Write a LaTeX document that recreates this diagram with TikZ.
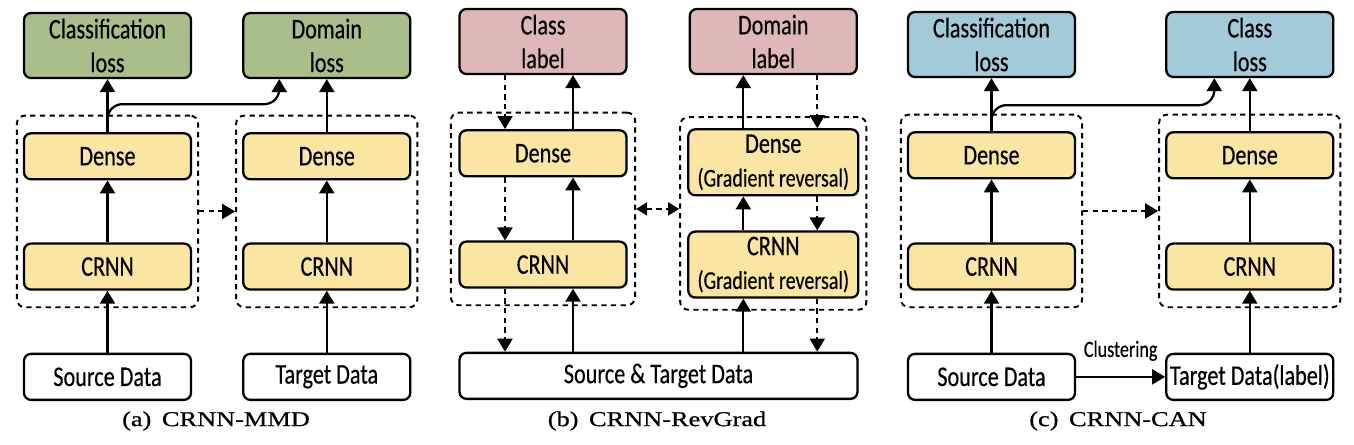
\documentclass[tikz,border=0pt]{standalone}
\usepackage{fontspec}
\usetikzlibrary{arrows.meta,positioning,fit}
\newfontfamily\boxfont{Carlito}[FakeStretch=0.78, FakeBold=0.4]
\newfontfamily\capfont{Liberation Serif}[FakeStretch=1.25, FakeBold=0.8]
\definecolor{lossgreen}{HTML}{A9BF8B}
\definecolor{labelpink}{HTML}{DDB8B6}
\definecolor{lossblue}{HTML}{A3CAD9}
\definecolor{layeryellow}{HTML}{FAE5A3}

\begin{document}
\begin{tikzpicture}[
    node distance=1.24cm,
    box/.style={rectangle, rounded corners=0.14cm, draw=black, line width=1.3pt, minimum width=3.34cm, align=center, inner sep=0pt, font=\boxfont\fontsize{16.2}{19.2}\selectfont},
    loss/.style={box, minimum height=1.3cm},
    layer/.style={box, fill=layeryellow, minimum height=0.92cm},
    revlayer/.style={layer, minimum width=3.4cm, minimum height=1.32cm},
    data/.style={box, fill=white, minimum height=0.92cm},
    group/.style={draw, line width=1.1pt, dash pattern=on 3pt off 2.5pt, rounded corners=0.16cm, inner xsep=0.12cm, inner ysep=0.33cm},
    arrow/.style={-{Triangle[length=0.26cm,width=0.3cm]}, line width=1.3pt},
    back/.style={arrow, line width=1.1pt, dash pattern=on 3pt off 2.5pt},
    caption/.style={font=\capfont\fontsize{12}{14}\selectfont}
]
\useasboundingbox (0,0) rectangle (27.08,-8.88);

% (a) CRNN-MMD
\node[loss, fill=lossgreen] (clsA) at (2.15,-0.91) {Classification\\loss};
\node[loss, fill=lossgreen, right=1.0cm of clsA] (domA) {Domain\\loss};
\node[layer, below=1.06cm of clsA] (denseA1) {Dense};
\node[layer, below=of denseA1] (crnnA1) {CRNN};
\node[data, below=of crnnA1] (srcA) {Source Data};
\node[layer, below=1.06cm of domA] (denseA2) {Dense};
\node[layer, below=of denseA2] (crnnA2) {CRNN};
\node[data, below=of crnnA2] (tgtA) {Target Data};
\node[group, fit=(denseA1)(crnnA1)] (grpA1) {};
\node[group, fit=(denseA2)(crnnA2)] (grpA2) {};

\draw[arrow] (srcA) -- (crnnA1);
\draw[arrow] (crnnA1) -- (denseA1);
\draw[arrow] (denseA1) -- (clsA);
\draw[arrow] (tgtA) -- (crnnA2);
\draw[arrow] (crnnA2) -- (denseA2);
\draw[arrow] (denseA2) -- (domA);
\draw[arrow, rounded corners=0.3cm] (denseA1.north) |- ([xshift=-0.95cm, yshift=-0.5cm]domA.south) -- ([xshift=-0.95cm]domA.south);
\draw[back] (grpA1) -- (grpA2);

% (b) CRNN-RevGrad
\node[loss, fill=labelpink] (clsB) at (10.86,-0.83) {Class\\label};
\node[loss, fill=labelpink, right=1.22cm of clsB] (domB) {Domain\\label};
\node[layer, below=1.08cm of clsB] (denseB1) {Dense};
\node[layer, below=1.26cm of denseB1] (crnnB1) {CRNN};
\node[revlayer, below=1.06cm of domB] (denseB2) {Dense\\{\fontsize{14.6}{17}\selectfont (Gradient reversal)}};
\node[revlayer, below=0.68cm of denseB2] (crnnB2) {CRNN\\{\fontsize{14.6}{17}\selectfont (Gradient reversal)}};
\node[data, minimum width=7.96cm, below=1.26cm of crnnB1.south west, anchor=north west] (dataB) {Source \& Target Data};
\node[group, inner xsep=0.15cm, fit=(denseB1)(crnnB1)] (grpB1) {};
\node[group, inner xsep=0.14cm, inner ysep=0.22cm, fit=(denseB2)(crnnB2)] (grpB2) {};

\coordinate (dnB1) at ([xshift=-0.76cm]clsB.south);
\coordinate (upB1) at ([xshift=0.6cm]clsB.south);
\coordinate (upB2) at ([xshift=-0.6cm]domB.south);
\coordinate (dnB2) at ([xshift=0.88cm]domB.south);

\draw[back] (dnB1) -- (dnB1 |- denseB1.north);
\draw[back] (dnB1 |- denseB1.south) -- (dnB1 |- crnnB1.north);
\draw[back] (dnB1 |- crnnB1.south) -- (dnB1 |- dataB.north);
\draw[arrow] (upB1 |- dataB.north) -- (upB1 |- crnnB1.south);
\draw[arrow] (upB1 |- crnnB1.north) -- (upB1 |- denseB1.south);
\draw[arrow] (upB1 |- denseB1.north) -- (upB1);
\draw[arrow] (upB2 |- dataB.north) -- (upB2 |- crnnB2.south);
\draw[arrow] (upB2 |- crnnB2.north) -- (upB2 |- denseB2.south);
\draw[arrow] (upB2 |- denseB2.north) -- (upB2);
\draw[back] (dnB2) -- (dnB2 |- denseB2.north);
\draw[back] (dnB2 |- denseB2.south) -- (dnB2 |- crnnB2.north);
\draw[back] (dnB2 |- crnnB2.south) -- (dnB2 |- dataB.north);
\draw[back, {Triangle[length=0.22cm,width=0.26cm]}-{Triangle[length=0.22cm,width=0.26cm]}] (grpB1.east) -- (grpB1.east -| grpB2.west);

% (c) CRNN-CAN
\node[loss, fill=lossblue] (clsC) at (19.83,-0.89) {Classification\\loss};
\node[loss, fill=lossblue, right=1.78cm of clsC] (lossC2) {Class\\loss};
\node[layer, below=1.06cm of clsC] (denseC1) {Dense};
\node[layer, below=1.26cm of denseC1] (crnnC1) {CRNN};
\node[data, below=of crnnC1] (srcC) {Source Data};
\node[layer, below=1.06cm of lossC2] (denseC2) {Dense};
\node[layer, below=1.26cm of denseC2] (crnnC2) {CRNN};
\node[data, below=of crnnC2] (tgtC) {Target Data(label)};
\node[group, fit=(denseC1)(crnnC1)] (grpC1) {};
\node[group, fit=(denseC2)(crnnC2)] (grpC2) {};

\draw[arrow] (srcC) -- (crnnC1);
\draw[arrow] (crnnC1) -- (denseC1);
\draw[arrow] (denseC1) -- (clsC);
\draw[arrow] (tgtC) -- (crnnC2);
\draw[arrow] (crnnC2) -- (denseC2);
\draw[arrow] (denseC2) -- (lossC2);
\draw[arrow, rounded corners=0.3cm] (denseC1.north) |- ([xshift=-0.71cm, yshift=-0.54cm]lossC2.south) -- ([xshift=-0.71cm]lossC2.south);
\draw[arrow] (srcC) -- node[above=0.18cm, font=\boxfont\fontsize{13.2}{15}\selectfont] (clusC) {Clustering} (tgtC);
\draw[back] (grpC1) -- (grpC2);

% Captions
\node[caption] (capA) at (4.32,-8.42) {(a)\enspace CRNN-MMD};
\node[caption] (capB) at (13.14,-8.42) {(b)\enspace CRNN-RevGrad};
\node[caption] (capC) at (22.36,-8.42) {(c)\enspace CRNN-CAN};

\end{tikzpicture}
\end{document}
